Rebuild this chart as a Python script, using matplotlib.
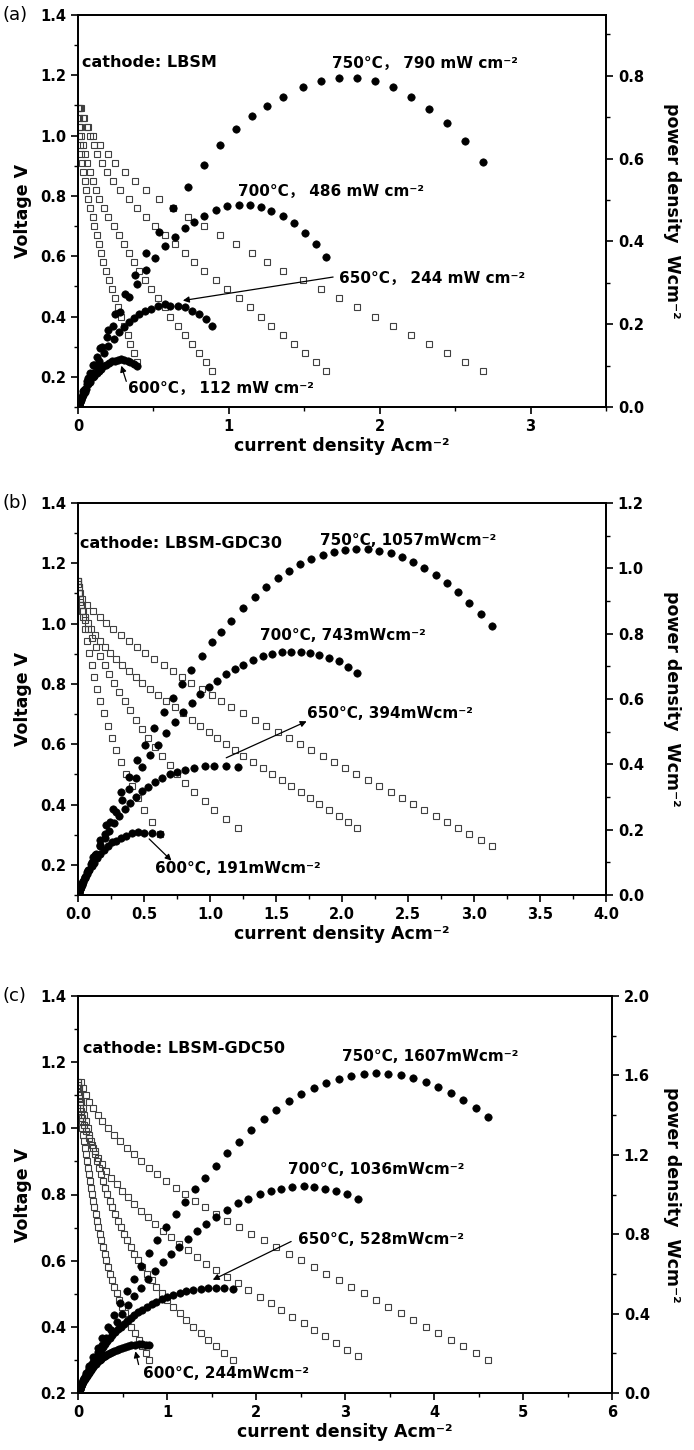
"""
Single cell I-V and power density curves for three cathodes (LBSM, LBSM-GDC30, LBSM-GDC50)
"""

import matplotlib
matplotlib.use('Agg')
import matplotlib.pyplot as plt
from matplotlib.ticker import MultipleLocator, FormatStrFormatter

plt.rcParams['font.family'] = ['DejaVu Sans', 'Noto Sans CJK SC']
plt.rcParams['font.weight'] = 'bold'

# ---------------- panel (a): cathode LBSM ----------------
volt_a = [1.09, 1.06, 1.03, 1.00, 0.97, 0.94, 0.91, 0.88, 0.85, 0.82, 0.79, 0.76, 0.73, 0.70, 0.67,
          0.64, 0.61, 0.58, 0.55, 0.52, 0.49, 0.46, 0.43, 0.40, 0.37, 0.34, 0.31, 0.28, 0.25, 0.22]

cur_a600 = [0.002, 0.004, 0.007, 0.009, 0.013, 0.020, 0.027, 0.036, 0.044, 0.053, 0.069, 0.080, 0.098, 0.109, 0.124,
            0.138, 0.153, 0.169, 0.184, 0.204, 0.224, 0.242, 0.264, 0.287, 0.307, 0.329, 0.347, 0.369, 0.391]
pow_a600 = [0.002, 0.004, 0.007, 0.009, 0.013, 0.019, 0.025, 0.032, 0.037, 0.043, 0.055, 0.061, 0.072, 0.076, 0.083,
            0.088, 0.093, 0.098, 0.101, 0.106, 0.110, 0.111, 0.114, 0.115, 0.114, 0.112, 0.108, 0.103, 0.098]

cur_a650 = [0.004, 0.008, 0.012, 0.018, 0.031, 0.047, 0.062, 0.080, 0.098, 0.120, 0.142, 0.173, 0.202, 0.236, 0.269,
            0.302, 0.336, 0.369, 0.407, 0.447, 0.484, 0.529, 0.576, 0.613, 0.662, 0.709, 0.753, 0.802, 0.847, 0.891]
pow_a650 = [0.004, 0.008, 0.012, 0.018, 0.030, 0.044, 0.056, 0.070, 0.083, 0.098, 0.112, 0.131, 0.147, 0.165, 0.180,
            0.193, 0.205, 0.214, 0.224, 0.232, 0.237, 0.243, 0.248, 0.245, 0.245, 0.241, 0.233, 0.225, 0.212, 0.196]

cur_a700 = [0.020, 0.040, 0.060, 0.082, 0.105, 0.129, 0.158, 0.191, 0.231, 0.280, 0.336, 0.391, 0.453, 0.513, 0.580,
            0.642, 0.709, 0.771, 0.838, 0.918, 0.991, 1.064, 1.138, 1.211, 1.282, 1.358, 1.431, 1.502, 1.576, 1.647]
pow_a700 = [0.022, 0.042, 0.062, 0.082, 0.102, 0.121, 0.144, 0.168, 0.196, 0.230, 0.265, 0.297, 0.331, 0.359, 0.389,
            0.411, 0.432, 0.447, 0.461, 0.477, 0.486, 0.489, 0.489, 0.484, 0.474, 0.462, 0.444, 0.421, 0.394, 0.362]

cur_a750 = [0.013, 0.036, 0.069, 0.102, 0.147, 0.198, 0.247, 0.309, 0.376, 0.453, 0.536, 0.631, 0.729, 0.836, 0.944,
            1.049, 1.153, 1.256, 1.360, 1.489, 1.609, 1.729, 1.849, 1.969, 2.087, 2.207, 2.327, 2.447, 2.567, 2.687]
pow_a750 = [0.014, 0.038, 0.071, 0.102, 0.143, 0.186, 0.225, 0.272, 0.320, 0.371, 0.423, 0.480, 0.532, 0.585, 0.632,
            0.671, 0.703, 0.728, 0.748, 0.774, 0.788, 0.795, 0.795, 0.788, 0.772, 0.750, 0.721, 0.685, 0.642, 0.591]

# ---------------- panel (b): cathode LBSM-GDC30 ----------------
volt_b600 = [1.142, 1.102, 1.062, 1.022, 0.982, 0.942, 0.902, 0.862, 0.822, 0.782, 0.742,
             0.702, 0.662, 0.622, 0.582, 0.542, 0.502, 0.462, 0.422, 0.382, 0.342, 0.302]
cur_b600 = [0.0, 0.010, 0.023, 0.039, 0.054, 0.067, 0.086, 0.104, 0.119, 0.143, 0.169,
            0.195, 0.228, 0.259, 0.285, 0.324, 0.363, 0.410, 0.454, 0.501, 0.558, 0.622]
pow_b600 = [0.0, 0.011, 0.024, 0.040, 0.053, 0.063, 0.078, 0.090, 0.098, 0.112, 0.125,
            0.137, 0.151, 0.161, 0.166, 0.176, 0.182, 0.189, 0.192, 0.191, 0.191, 0.188]

volt_b650 = [1.132, 1.102, 1.072, 1.042, 1.012, 0.982, 0.952, 0.922, 0.892, 0.862, 0.832, 0.802, 0.772, 0.742,
             0.712, 0.682, 0.652, 0.622, 0.592, 0.562, 0.532, 0.502, 0.472, 0.442, 0.412, 0.382, 0.352, 0.322]
cur_b650 = [0.0, 0.008, 0.018, 0.034, 0.054, 0.078, 0.106, 0.135, 0.169, 0.202, 0.236, 0.275, 0.314, 0.353,
            0.397, 0.441, 0.488, 0.534, 0.586, 0.638, 0.695, 0.752, 0.812, 0.882, 0.960, 1.032, 1.123, 1.214]
pow_b650 = [0.0, 0.009, 0.019, 0.035, 0.055, 0.077, 0.101, 0.124, 0.151, 0.174, 0.196, 0.221, 0.242, 0.262,
            0.283, 0.301, 0.318, 0.332, 0.347, 0.359, 0.370, 0.378, 0.383, 0.390, 0.396, 0.394, 0.395, 0.391]

volt_b700 = [1.142, 1.122, 1.102, 1.082, 1.062, 1.042, 1.022, 1.002, 0.982, 0.962, 0.942, 0.922, 0.902, 0.882,
             0.862, 0.842, 0.822, 0.802, 0.782, 0.762, 0.742, 0.722, 0.702, 0.682, 0.662, 0.642, 0.622, 0.602,
             0.582, 0.562, 0.542, 0.522, 0.502, 0.482, 0.462, 0.442, 0.422, 0.402, 0.382, 0.362, 0.342, 0.322]
cur_b700 = [0.0, 0.004, 0.010, 0.018, 0.028, 0.040, 0.054, 0.072, 0.096, 0.126, 0.163, 0.202, 0.246, 0.288,
            0.337, 0.384, 0.436, 0.488, 0.547, 0.604, 0.669, 0.734, 0.799, 0.864, 0.928, 0.993, 1.053, 1.123,
            1.188, 1.253, 1.325, 1.400, 1.473, 1.543, 1.610, 1.686, 1.758, 1.828, 1.901, 1.974, 2.044, 2.116]
pow_b700 = [0.0, 0.004, 0.011, 0.019, 0.030, 0.042, 0.055, 0.072, 0.094, 0.121, 0.154, 0.186, 0.222, 0.254,
            0.290, 0.323, 0.358, 0.391, 0.428, 0.460, 0.496, 0.530, 0.561, 0.589, 0.614, 0.638, 0.655, 0.676,
            0.691, 0.704, 0.718, 0.731, 0.739, 0.744, 0.744, 0.745, 0.742, 0.735, 0.726, 0.715, 0.699, 0.681]

volt_b750 = [1.142, 1.122, 1.102, 1.082, 1.062, 1.042, 1.022, 1.002, 0.982, 0.962, 0.942, 0.922, 0.902, 0.882,
             0.862, 0.842, 0.822, 0.802, 0.782, 0.762, 0.742, 0.722, 0.702, 0.682, 0.662, 0.642, 0.622, 0.602,
             0.582, 0.562, 0.542, 0.522, 0.502, 0.482, 0.462, 0.442, 0.422, 0.402, 0.382, 0.362, 0.342, 0.322,
             0.302, 0.282, 0.262]
cur_b750 = [0.0, 0.005, 0.016, 0.034, 0.067, 0.112, 0.163, 0.215, 0.267, 0.327, 0.384, 0.449, 0.508, 0.578,
            0.648, 0.716, 0.786, 0.858, 0.936, 1.014, 1.084, 1.162, 1.253, 1.338, 1.426, 1.512, 1.595, 1.681,
            1.766, 1.854, 1.940, 2.023, 2.108, 2.194, 2.277, 2.368, 2.451, 2.536, 2.622, 2.710, 2.796, 2.879,
            2.964, 3.050, 3.138]
pow_b750 = [0.0, 0.006, 0.018, 0.037, 0.071, 0.117, 0.167, 0.215, 0.262, 0.315, 0.362, 0.414, 0.458, 0.510,
            0.559, 0.603, 0.646, 0.688, 0.732, 0.773, 0.804, 0.839, 0.880, 0.913, 0.944, 0.971, 0.992, 1.012,
            1.028, 1.042, 1.051, 1.056, 1.058, 1.058, 1.052, 1.047, 1.034, 1.019, 1.002, 0.981, 0.956, 0.927,
            0.895, 0.860, 0.822]

# ---------------- panel (c): cathode LBSM-GDC50 ----------------
volt_c = [1.141, 1.121, 1.101, 1.081, 1.061, 1.041, 1.021, 1.001, 0.981, 0.961, 0.941, 0.921, 0.901, 0.881,
          0.861, 0.841, 0.821, 0.801, 0.781, 0.761, 0.741, 0.721, 0.701, 0.681, 0.661, 0.641, 0.621, 0.601,
          0.581, 0.561, 0.541, 0.521, 0.501, 0.481, 0.461, 0.441, 0.421, 0.401, 0.381, 0.361, 0.341, 0.321, 0.301]

cur_c600 = [0.0, 0.006, 0.012, 0.019, 0.026, 0.034, 0.042, 0.050, 0.059, 0.068, 0.078, 0.088, 0.098, 0.109,
            0.120, 0.132, 0.144, 0.157, 0.170, 0.184, 0.198, 0.213, 0.229, 0.245, 0.262, 0.280, 0.299, 0.319,
            0.340, 0.362, 0.385, 0.410, 0.437, 0.466, 0.497, 0.530, 0.565, 0.600, 0.640, 0.680, 0.720, 0.760, 0.801]
pow_c600 = [0.0, 0.007, 0.013, 0.021, 0.028, 0.035, 0.043, 0.050, 0.058, 0.065, 0.073, 0.081, 0.088, 0.096,
            0.103, 0.111, 0.118, 0.126, 0.133, 0.140, 0.147, 0.154, 0.161, 0.167, 0.173, 0.179, 0.186, 0.192,
            0.198, 0.203, 0.208, 0.214, 0.219, 0.224, 0.229, 0.234, 0.238, 0.241, 0.244, 0.245, 0.246, 0.244, 0.241]

cur_c650 = [0.0, 0.007, 0.020, 0.036, 0.053, 0.071, 0.089, 0.108, 0.127, 0.147, 0.167, 0.188, 0.209, 0.231,
            0.254, 0.278, 0.303, 0.329, 0.356, 0.384, 0.414, 0.445, 0.478, 0.513, 0.550, 0.590, 0.632, 0.676,
            0.723, 0.773, 0.826, 0.882, 0.942, 1.005, 1.072, 1.142, 1.218, 1.297, 1.380, 1.466, 1.554, 1.646, 1.742]
pow_c650 = [0.0, 0.008, 0.022, 0.039, 0.056, 0.074, 0.091, 0.108, 0.125, 0.141, 0.157, 0.173, 0.188, 0.204,
            0.219, 0.234, 0.249, 0.264, 0.278, 0.292, 0.307, 0.321, 0.335, 0.349, 0.364, 0.378, 0.392, 0.406,
            0.420, 0.434, 0.447, 0.460, 0.472, 0.483, 0.494, 0.504, 0.513, 0.520, 0.526, 0.529, 0.530, 0.528, 0.524]

volt_c700 = [1.131, 1.111, 1.091, 1.071, 1.051, 1.031, 1.011, 0.991, 0.971, 0.951, 0.931, 0.911, 0.891, 0.871,
             0.851, 0.831, 0.811, 0.791, 0.771, 0.751, 0.731, 0.711, 0.691, 0.671, 0.651, 0.631, 0.611, 0.591,
             0.571, 0.551, 0.531, 0.511, 0.491, 0.471, 0.451, 0.431, 0.411, 0.391, 0.371, 0.351, 0.331, 0.311]
cur_c700 = [0.0, 0.004, 0.012, 0.020, 0.032, 0.048, 0.068, 0.092, 0.120, 0.152, 0.188, 0.228, 0.272, 0.320,
            0.372, 0.433, 0.493, 0.561, 0.633, 0.705, 0.785, 0.865, 0.953, 1.041, 1.133, 1.233, 1.334, 1.442,
            1.554, 1.674, 1.802, 1.914, 2.042, 2.163, 2.283, 2.407, 2.535, 2.655, 2.775, 2.896, 3.028, 3.148]
pow_c700 = [0.0, 0.004, 0.013, 0.021, 0.034, 0.049, 0.069, 0.091, 0.117, 0.145, 0.175, 0.208, 0.242, 0.279,
            0.317, 0.360, 0.400, 0.444, 0.488, 0.529, 0.574, 0.615, 0.659, 0.699, 0.738, 0.778, 0.815, 0.852,
            0.887, 0.922, 0.957, 0.978, 1.003, 1.019, 1.030, 1.037, 1.042, 1.038, 1.030, 1.017, 1.002, 0.979]

cur_c750 = [0.032, 0.060, 0.092, 0.128, 0.172, 0.220, 0.272, 0.332, 0.400, 0.473, 0.545, 0.625, 0.713, 0.801,
            0.893, 0.993, 1.097, 1.201, 1.314, 1.426, 1.546, 1.674, 1.806, 1.946, 2.087, 2.227, 2.367, 2.507,
            2.647, 2.787, 2.928, 3.068, 3.208, 3.348, 3.488, 3.628, 3.768, 3.909, 4.049, 4.189, 4.329, 4.469, 4.610]
pow_c750 = [0.037, 0.067, 0.101, 0.138, 0.182, 0.229, 0.278, 0.332, 0.392, 0.455, 0.513, 0.576, 0.642, 0.706,
            0.769, 0.835, 0.901, 0.962, 1.026, 1.085, 1.146, 1.207, 1.266, 1.325, 1.380, 1.428, 1.470, 1.507,
            1.538, 1.564, 1.584, 1.598, 1.607, 1.610, 1.608, 1.600, 1.586, 1.568, 1.543, 1.512, 1.476, 1.435, 1.388]

notes_a = ['750°C， 790 mW cm⁻²', '700°C， 486 mW cm⁻²', '650°C， 244 mW cm⁻²', '600°C， 112 mW cm⁻²']
notes_b = ['750°C, 1057mWcm⁻²', '700°C, 743mWcm⁻²', '650°C, 394mWcm⁻²', '600°C, 191mWcm⁻²']
notes_c = ['750°C, 1607mWcm⁻²', '700°C, 1036mWcm⁻²', '650°C, 528mWcm⁻²', '600°C, 244mWcm⁻²']


def draw_panel(fig, rect, curves, tag, cathode, notes, note_xy, arrows,
               xlim, xmaj, xmin, xfmt, ylim, plim, pmaj, pmin):
    """One panel: voltage (open squares, left) and power density (filled circles, right)."""
    ax = fig.add_axes(rect)
    ax2 = ax.twinx()

    for cur, volt, pw in curves:
        ax.plot(cur, volt, ls='none', marker='s', ms=4.6, mfc='none', mec='#404040', mew=0.8)
        ax2.plot(cur, pw, ls='none', marker='o', ms=5.3, mfc='black', mec='black', mew=0.5)

    ax.set_xlim(*xlim)
    ax.set_ylim(*ylim)
    ax2.set_ylim(*plim)

    ax.xaxis.set_major_locator(MultipleLocator(xmaj))
    ax.xaxis.set_minor_locator(MultipleLocator(xmin))
    ax.xaxis.set_major_formatter(FormatStrFormatter(xfmt))
    ax.yaxis.set_major_locator(MultipleLocator(0.2))
    ax.yaxis.set_minor_locator(MultipleLocator(0.1))
    ax.yaxis.set_major_formatter(FormatStrFormatter('%.1f'))
    ax2.yaxis.set_major_locator(MultipleLocator(pmaj))
    ax2.yaxis.set_minor_locator(MultipleLocator(pmin))
    ax2.yaxis.set_major_formatter(FormatStrFormatter('%.1f'))

    for a in (ax, ax2):
        for sp in a.spines.values():
            sp.set_linewidth(1.3)
        a.tick_params(which='major', direction='out', length=5, width=1.2, labelsize=10.5)
        a.tick_params(which='minor', direction='out', length=3, width=1.0)
    ax.tick_params(which='both', top=False, right=False)
    ax2.tick_params(which='both', left=False, top=False, bottom=False)
    for lab in ax.get_xticklabels() + ax.get_yticklabels() + ax2.get_yticklabels():
        lab.set_fontweight('bold')

    w = rect[2] * 694
    h = rect[3] * 1450
    ax.set_xlabel('current density Acm⁻²', fontsize=12.5, fontweight='bold', va='center')
    ax.xaxis.set_label_coords(0.5, -39 / h)
    ax.set_ylabel('Voltage V', fontsize=12.5, fontweight='bold', va='center', ha='center')
    ax.yaxis.set_label_coords(-55 / w, 0.5)
    ax2.set_ylabel('power density  Wcm⁻²', fontsize=12.5, fontweight='bold',
                   rotation=-90, va='center', ha='center')
    ax2.yaxis.set_label_coords((672 - 78) / w, 0.5)

    ax.text(cathode[1], cathode[2], cathode[0], fontsize=11.5, fontweight='bold', va='center')
    for s, (x, y) in zip(notes, note_xy):
        ax.text(x, y, s, fontsize=11, fontweight='bold', va='center')
    for tail, head in arrows:
        ax.annotate('', xy=head, xytext=tail,
                    arrowprops=dict(arrowstyle='-|>', color='black', lw=0.9,
                                    mutation_scale=9, shrinkA=0, shrinkB=0))

    fig.text(3 / 694, rect[1] + rect[3], tag, fontsize=13, fontweight='normal', va='center', ha='left')
    return ax, ax2


fig = plt.figure(figsize=(6.94, 14.5), dpi=100)

draw_panel(fig, [78 / 694, 1 - 407 / 1450, 528 / 694, 392 / 1450],
           [(cur_a600, volt_a[:29], pow_a600), (cur_a650, volt_a, pow_a650),
            (cur_a700, volt_a, pow_a700), (cur_a750, volt_a, pow_a750)],
           '(a)', ('cathode: LBSM', 0.027, 1.244), notes_a,
           [(1.687, 1.24), (1.06, 0.815), (1.727, 0.526), (0.329, 0.160)],
           [((1.691, 0.531), (0.695, 0.453)), ((0.32, 0.185), (0.287, 0.237))],
           (0, 3.5), 1, 0.5, '%d', (0.1, 1.4), (0, 0.947), 0.2, 0.1)

draw_panel(fig, [78 / 694, 1 - 895 / 1450, 528 / 694, 392 / 1450],
           [(cur_b600, volt_b600, pow_b600), (cur_b650, volt_b650, pow_b650),
            (cur_b700, volt_b700, pow_b700), (cur_b750, volt_b750, pow_b750)],
           '(b)', ('cathode: LBSM-GDC30', 0.016, 1.266), notes_b,
           [(1.836, 1.277), (1.382, 0.962), (1.732, 0.701), (0.586, 0.187)],
           [((1.123, 0.555), (1.732, 0.676)), ((0.539, 0.286), (0.708, 0.214))],
           (0, 4.0), 0.5, 0.25, '%.1f', (0.1, 1.4), (0, 1.2), 0.2, 0.1)

draw_panel(fig, [78 / 694, 1 - 1393 / 1450, 534 / 694, 397 / 1450],
           [(cur_c600, volt_c, pow_c600), (cur_c650, volt_c, pow_c650),
            (cur_c700, volt_c700, pow_c700), (cur_c750, volt_c, pow_c750)],
           '(c)', ('cathode: LBSM-GDC50', 0.052, 1.242), notes_c,
           [(2.968, 1.217), (2.355, 0.875), (2.467, 0.663), (0.733, 0.26)],
           [((2.395, 0.658), (1.514, 0.542)), ((0.681, 0.286), (0.645, 0.326))],
           (0, 6), 1, 0.5, '%d', (0.2, 1.4), (0, 2.0), 0.4, 0.2)

fig.savefig('out.png', dpi=100)
